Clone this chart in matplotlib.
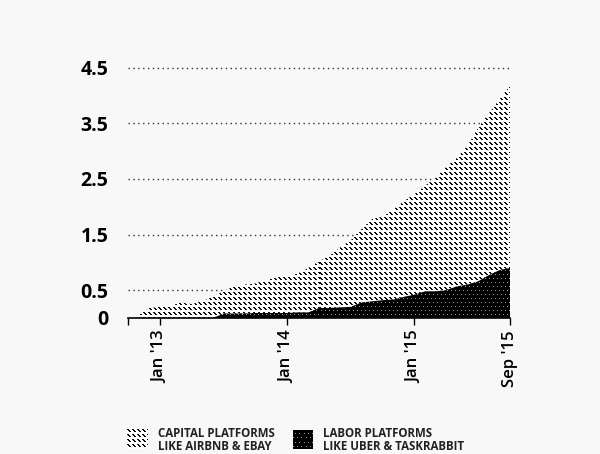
import numpy as np
import matplotlib
matplotlib.use("Agg")
import matplotlib.pyplot as plt

plt.rcParams['font.family'] = ['Open Sans', 'DejaVu Sans']

# months counted from Jan 2013
months = np.arange(-2, 34)
total = [0.05, 0.18, 0.2, 0.22, 0.28, 0.25, 0.3, 0.38, 0.48, 0.57, 0.6, 0.62,
         0.68, 0.73, 0.75, 0.8, 0.9, 1.02, 1.12, 1.27, 1.4, 1.6, 1.78, 1.82,
         1.95, 2.1, 2.23, 2.38, 2.52, 2.72, 2.88, 3.1, 3.42, 3.68, 3.93, 4.18]
labor = [0, 0, 0, 0, 0, 0, 0, 0, 0.08, 0.08, 0.08, 0.09,
         0.09, 0.09, 0.09, 0.1, 0.1, 0.18, 0.18, 0.19, 0.2, 0.28, 0.3, 0.32,
         0.33, 0.38, 0.42, 0.48, 0.48, 0.5, 0.57, 0.6, 0.66, 0.77, 0.86, 0.9]
total = np.array(total)
labor = np.array(labor)

xticks = [0, 12, 24, 33]
xlabels = ["Jan '13", "Jan '14", "Jan '15", "Sep '15"]
yticks = [0, 0.5, 1.5, 2.5, 3.5, 4.5]
ylabels = ["0", "0.5", "1.5", "2.5", "3.5", "4.5"]

bg = '#f8f8f8'
W_IN, H_IN, DPI = 6, 4.54, 100


def dash_texture(h, w):
    # short "\" dashes on white
    i, j = np.mgrid[0:h, 0:w]
    on = (((j - i) % 5) < 2) & ((i % 5) < 3)
    img = np.ones((h, w, 3))
    img[on] = 0.05
    return img


def dot_texture(h, w):
    # black with small grey dots
    i, j = np.mgrid[0:h, 0:w]
    on = ((i % 4) == 0) & (((j + 2 * ((i // 4) % 2)) % 4) == 0)
    img = np.zeros((h, w, 3))
    img[on] = 0.6
    return img


fig = plt.figure(figsize=(W_IN, H_IN), dpi=DPI, facecolor=bg)
ax_rect = [0.2133, 0.2996, 0.6367, 0.5634]
ax = fig.add_axes(ax_rect)
ax.set_facecolor(bg)

xlim = (-3, 33)
ylim = (0, 4.6)
pw = int(round(ax_rect[2] * W_IN * DPI))
ph = int(round(ax_rect[3] * H_IN * DPI))
ext = [xlim[0], xlim[1], ylim[0], ylim[1]]

cap_poly = ax.fill_between(months, labor, total, facecolor='none', linewidth=0)
lab_poly = ax.fill_between(months, 0, labor, facecolor='none', linewidth=0)

im1 = ax.imshow(dash_texture(ph, pw), extent=ext, aspect='auto',
                interpolation='nearest', zorder=2)
im1.set_clip_path(cap_poly.get_paths()[0], ax.transData)
im2 = ax.imshow(dot_texture(ph, pw), extent=ext, aspect='auto',
                interpolation='nearest', zorder=3)
im2.set_clip_path(lab_poly.get_paths()[0], ax.transData)

ax.set_xlim(*xlim)
ax.set_ylim(*ylim)
ax.set_yticks(yticks)
ax.set_yticklabels(ylabels, fontsize=14, fontweight='bold')
ax.set_xticks([xlim[0]] + xticks)
ax.set_xticklabels([''] + xlabels, rotation=90, fontsize=12, fontweight=600)
ax.tick_params(axis='y', length=0, pad=14)
ax.tick_params(axis='x', length=5, width=1, direction='out', pad=4)

for v in yticks[1:]:
    ax.axhline(v, color='#333333', linestyle=(0, (1, 2.5)), linewidth=1, zorder=1)

for s in ['left', 'right', 'top']:
    ax.spines[s].set_visible(False)
ax.spines['bottom'].set_linewidth(1.2)
ax.spines['bottom'].set_zorder(5)

# legend swatches
sw1 = fig.add_axes([0.212, 0.01, 0.035, 0.044])
sw1.imshow(dash_texture(20, 21), interpolation='nearest', aspect='auto')
sw2 = fig.add_axes([0.488, 0.01, 0.032, 0.042])
sw2.imshow(dot_texture(19, 19), interpolation='nearest', aspect='auto')
for s in (sw1, sw2):
    s.set_axis_off()

fig.text(0.263, 0.031, 'CAPITAL PLATFORMS\nLIKE AIRBNB & EBAY', fontsize=8.3,
         fontweight='bold', va='center', ha='left', linespacing=1.0, color='#222222')
fig.text(0.538, 0.031, 'LABOR PLATFORMS\nLIKE UBER & TASKRABBIT', fontsize=8.3,
         fontweight='bold', va='center', ha='left', linespacing=1.0, color='#222222')

fig.savefig('out.png', dpi=DPI, facecolor=bg)
